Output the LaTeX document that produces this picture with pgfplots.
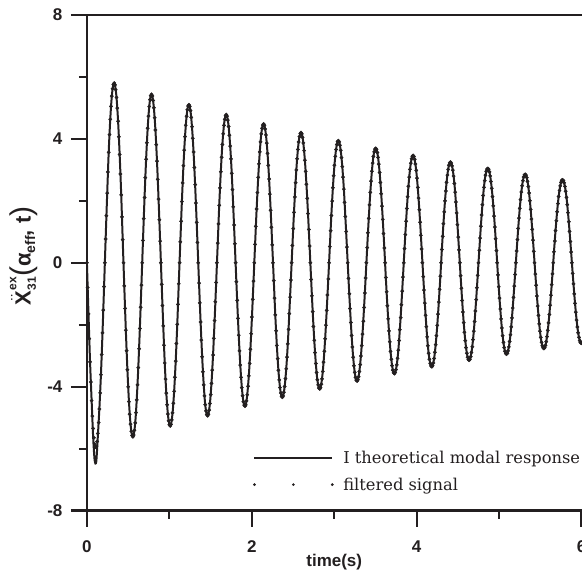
\documentclass[border=0pt]{standalone}
\usepackage{fontspec}
\setmainfont{DejaVu Serif}
\setsansfont{Liberation Sans}
\usepackage{pgfplots}
\pgfplotsset{compat=1.18}
\usepackage{pgfplotstable}
\definecolor{ink}{RGB}{35,31,32}

\pgfplotstableread{
t y
0.000 0.00
0.019 -1.65
0.038 -3.20
0.057 -4.45
0.076 -5.65
0.094 -6.38
0.113 -6.42
0.132 -5.62
0.151 -4.721
}\start

\pgfplotstableread{
t y
0.000 0.00
0.019 -1.65
0.038 -3.20
0.057 -4.45
0.076 -5.35
0.094 -5.85
0.113 -5.93
0.132 -5.51
0.151 -4.721
0.170 -3.613
0.189 -2.265
0.208 -0.770
0.227 0.768
0.246 2.247
0.264 3.565
0.283 4.633
0.302 5.381
0.321 5.758
0.340 5.743
0.359 5.337
0.378 4.571
0.397 3.498
0.416 2.193
0.434 0.746
0.453 -0.744
0.472 -2.176
0.491 -3.452
0.510 -4.486
0.529 -5.210
0.548 -5.576
0.567 -5.561
0.586 -5.168
0.604 -4.426
0.623 -3.387
0.642 -2.124
0.661 -0.722
0.680 0.720
0.699 2.107
0.718 3.342
0.737 4.344
0.756 5.045
0.774 5.399
0.793 5.385
0.812 5.005
0.831 4.286
0.850 3.280
0.869 2.056
0.888 0.699
0.907 -0.697
0.926 -2.040
0.944 -3.236
0.963 -4.207
0.982 -4.885
1.001 -5.228
1.020 -5.214
1.039 -4.846
1.058 -4.151
1.077 -3.176
1.096 -1.991
1.114 -0.677
1.133 0.675
1.152 1.975
1.171 3.134
1.190 4.073
1.209 4.731
1.228 5.063
1.247 5.049
1.265 4.693
1.284 4.019
1.303 3.076
1.322 1.928
1.341 0.656
1.360 -0.654
1.379 -1.913
1.398 -3.035
1.417 -3.944
1.435 -4.581
1.454 -4.902
1.473 -4.889
1.492 -4.544
1.511 -3.892
1.530 -2.978
1.549 -1.867
1.568 -0.635
1.587 0.633
1.605 1.852
1.624 2.939
1.643 3.819
1.662 4.436
1.681 4.747
1.700 4.734
1.719 4.400
1.738 3.768
1.757 2.884
1.775 1.808
1.794 0.615
1.813 -0.613
1.832 -1.794
1.851 -2.846
1.870 -3.698
1.889 -4.295
1.908 -4.597
1.927 -4.584
1.945 -4.261
1.964 -3.649
1.983 -2.793
2.002 -1.751
2.021 -0.595
2.040 0.594
2.059 1.737
2.078 2.755
2.097 3.581
2.115 4.159
2.134 4.451
2.153 4.439
2.172 4.126
2.191 3.534
2.210 2.704
2.229 1.695
2.248 0.577
2.267 -0.575
2.285 -1.682
2.304 -2.668
2.323 -3.468
2.342 -4.027
2.361 -4.310
2.380 -4.299
2.399 -3.995
2.418 -3.422
2.437 -2.619
2.455 -1.642
2.474 -0.558
2.493 0.557
2.512 1.628
2.531 2.584
2.550 3.358
2.569 3.900
2.588 4.174
2.607 4.162
2.625 3.869
2.644 3.313
2.663 2.536
2.682 1.590
2.701 0.541
2.720 -0.539
2.739 -1.577
2.758 -2.502
2.777 -3.252
2.795 -3.776
2.814 -4.041
2.833 -4.031
2.852 -3.746
2.871 -3.208
2.890 -2.455
2.909 -1.539
2.928 -0.524
2.947 0.522
2.965 1.527
2.984 2.423
3.003 3.149
3.022 3.657
3.041 3.913
3.060 3.903
3.079 3.627
3.098 3.107
3.117 2.378
3.135 1.491
3.154 0.507
3.173 -0.506
3.192 -1.479
3.211 -2.346
3.230 -3.049
3.249 -3.541
3.268 -3.789
3.287 -3.779
3.305 -3.513
3.324 -3.008
3.343 -2.302
3.362 -1.443
3.381 -0.491
3.400 0.490
3.419 1.432
3.438 2.272
3.457 2.952
3.475 3.429
3.494 3.669
3.513 3.660
3.532 3.401
3.551 2.913
3.570 2.229
3.589 1.398
3.608 0.475
3.626 -0.474
3.645 -1.386
3.664 -2.200
3.683 -2.859
3.702 -3.320
3.721 -3.553
3.740 -3.544
3.759 -3.294
3.778 -2.821
3.796 -2.159
3.815 -1.353
3.834 -0.460
3.853 0.459
3.872 1.342
3.891 2.130
3.910 2.768
3.929 3.215
3.948 3.441
3.966 3.431
3.985 3.189
4.004 2.731
4.023 2.090
4.042 1.310
4.061 0.446
4.080 -0.444
4.099 -1.300
4.118 -2.062
4.136 -2.681
4.155 -3.113
4.174 -3.332
4.193 -3.323
4.212 -3.088
4.231 -2.645
4.250 -2.024
4.269 -1.269
4.288 -0.432
4.306 0.430
4.325 1.259
4.344 1.997
4.363 2.596
4.382 3.015
4.401 3.226
4.420 3.218
4.439 2.990
4.458 2.561
4.476 1.960
4.495 1.229
4.514 0.418
4.533 -0.417
4.552 -1.219
4.571 -1.934
4.590 -2.514
4.609 -2.919
4.628 -3.124
4.646 -3.116
4.665 -2.896
4.684 -2.480
4.703 -1.898
4.722 -1.190
4.741 -0.405
4.760 0.404
4.779 1.180
4.798 1.873
4.816 2.434
4.835 2.827
4.854 3.025
4.873 3.017
4.892 2.804
4.911 2.402
4.930 1.838
4.949 1.152
4.968 0.392
4.986 -0.391
5.005 -1.143
5.024 -1.813
5.043 -2.357
5.062 -2.737
5.081 -2.929
5.100 -2.921
5.119 -2.715
5.138 -2.325
5.156 -1.780
5.175 -1.116
5.194 -0.379
5.213 0.378
5.232 1.107
5.251 1.756
5.270 2.282
5.289 2.651
5.308 2.837
5.326 2.829
5.345 2.629
5.364 2.252
5.383 1.723
5.402 1.080
5.421 0.367
5.440 -0.366
5.459 -1.072
5.478 -1.700
5.496 -2.210
5.515 -2.567
5.534 -2.747
5.553 -2.739
5.572 -2.546
5.591 -2.181
5.610 -1.669
5.629 -1.046
5.648 -0.356
5.666 0.355
5.685 1.038
5.704 1.646
5.723 2.140
5.742 2.485
5.761 2.660
5.780 2.653
5.799 2.465
5.818 2.111
5.836 1.616
5.855 1.013
5.874 0.345
5.893 -0.344
5.912 -1.005
5.931 -1.594
5.950 -2.072
5.969 -2.407
5.987 -2.575
6.000 -2.591
}\sig

\pgfplotstableread{
t y
0.009 -0.80
0.028 -2.45
0.047 -3.85
0.066 -4.95
0.085 -5.65
0.104 -5.95
0.123 -5.77
0.142 -5.160
0.161 -4.202
0.179 -2.963
0.198 -1.530
0.217 0.000
0.236 1.521
0.255 2.931
0.274 4.135
0.293 5.050
0.312 5.618
0.331 5.800
0.349 5.588
0.368 4.996
0.387 4.068
0.406 2.869
0.425 1.481
0.444 0.000
0.463 -1.473
0.482 -2.839
0.501 -4.004
0.519 -4.890
0.538 -5.440
0.557 -5.617
0.576 -5.410
0.595 -4.838
0.614 -3.940
0.633 -2.778
0.652 -1.434
0.671 0.000
0.689 1.427
0.708 2.749
0.727 3.877
0.746 4.735
0.765 5.267
0.784 5.439
0.803 5.239
0.822 4.685
0.841 3.815
0.859 2.690
0.878 1.389
0.897 0.000
0.916 -1.381
0.935 -2.662
0.954 -3.754
0.973 -4.585
0.992 -5.101
1.011 -5.266
1.029 -5.073
1.048 -4.536
1.067 -3.694
1.086 -2.605
1.105 -1.345
1.124 0.000
1.143 1.338
1.162 2.577
1.180 3.635
1.199 4.440
1.218 4.939
1.237 5.100
1.256 4.913
1.275 4.393
1.294 3.577
1.313 2.523
1.332 1.302
1.350 0.000
1.369 -1.295
1.388 -2.496
1.407 -3.520
1.426 -4.299
1.445 -4.783
1.464 -4.938
1.483 -4.757
1.502 -4.254
1.520 -3.464
1.539 -2.443
1.558 -1.261
1.577 0.000
1.596 1.254
1.615 2.417
1.634 3.408
1.653 4.163
1.672 4.631
1.690 4.782
1.709 4.606
1.728 4.119
1.747 3.354
1.766 2.365
1.785 1.221
1.804 0.000
1.823 -1.214
1.842 -2.340
1.860 -3.301
1.879 -4.031
1.898 -4.484
1.917 -4.630
1.936 -4.460
1.955 -3.988
1.974 -3.248
1.993 -2.290
2.012 -1.182
2.030 0.000
2.049 1.176
2.068 2.266
2.087 3.196
2.106 3.904
2.125 4.342
2.144 4.484
2.163 4.319
2.182 3.862
2.200 3.145
2.219 2.218
2.238 1.145
2.257 0.000
2.276 -1.139
2.295 -2.194
2.314 -3.095
2.333 -3.780
2.352 -4.205
2.370 -4.342
2.389 -4.182
2.408 -3.740
2.427 -3.045
2.446 -2.148
2.465 -1.109
2.484 0.000
2.503 1.103
2.522 2.125
2.540 2.997
2.559 3.660
2.578 4.072
2.597 4.204
2.616 4.050
2.635 3.621
2.654 2.949
2.673 2.080
2.692 1.074
2.710 0.000
2.729 -1.068
2.748 -2.057
2.767 -2.902
2.786 -3.544
2.805 -3.943
2.824 -4.071
2.843 -3.922
2.862 -3.507
2.880 -2.856
2.899 -2.014
2.918 -1.040
2.937 0.000
2.956 1.034
2.975 1.992
2.994 2.810
3.013 3.432
3.032 3.818
3.050 3.942
3.069 3.797
3.088 3.396
3.107 2.765
3.126 1.950
3.145 1.007
3.164 0.000
3.183 -1.001
3.202 -1.929
3.220 -2.721
3.239 -3.323
3.258 -3.697
3.277 -3.817
3.296 -3.677
3.315 -3.288
3.334 -2.677
3.353 -1.888
3.372 -0.975
3.390 0.000
3.409 0.970
3.428 1.868
3.447 2.635
3.466 3.218
3.485 3.580
3.504 3.696
3.523 3.561
3.541 3.184
3.560 2.593
3.579 1.828
3.598 0.944
3.617 0.000
3.636 -0.939
3.655 -1.809
3.674 -2.551
3.693 -3.116
3.711 -3.466
3.730 -3.579
3.749 -3.448
3.768 -3.083
3.787 -2.511
3.806 -1.771
3.825 -0.914
3.844 0.000
3.863 0.909
3.881 1.752
3.900 2.471
3.919 3.018
3.938 3.357
3.957 3.466
3.976 3.339
3.995 2.985
4.014 2.431
4.033 1.714
4.051 0.885
4.070 0.000
4.089 -0.880
4.108 -1.696
4.127 -2.392
4.146 -2.922
4.165 -3.250
4.184 -3.356
4.203 -3.233
4.221 -2.891
4.240 -2.354
4.259 -1.660
4.278 -0.857
4.297 0.000
4.316 0.852
4.335 1.642
4.354 2.317
4.373 2.830
4.391 3.147
4.410 3.250
4.429 3.131
4.448 2.799
4.467 2.280
4.486 1.608
4.505 0.830
4.524 0.000
4.543 -0.825
4.561 -1.590
4.580 -2.243
4.599 -2.740
4.618 -3.048
4.637 -3.147
4.656 -3.031
4.675 -2.711
4.694 -2.207
4.713 -1.557
4.731 -0.804
4.750 0.000
4.769 0.799
4.788 1.540
4.807 2.172
4.826 2.653
4.845 2.951
4.864 3.047
4.883 2.935
4.901 2.625
4.920 2.137
4.939 1.507
4.958 0.778
4.977 0.000
4.996 -0.774
5.015 -1.491
5.034 -2.103
5.053 -2.569
5.071 -2.858
5.090 -2.951
5.109 -2.843
5.128 -2.542
5.147 -2.070
5.166 -1.460
5.185 -0.753
5.204 0.000
5.223 0.749
5.241 1.444
5.260 2.037
5.279 2.488
5.298 2.767
5.317 2.857
5.336 2.752
5.355 2.461
5.374 2.004
5.393 1.413
5.411 0.730
5.430 0.000
5.449 -0.726
5.468 -1.398
5.487 -1.972
5.506 -2.409
5.525 -2.680
5.544 -2.767
5.563 -2.665
5.581 -2.383
5.600 -1.941
5.619 -1.369
5.638 -0.707
5.657 0.000
5.676 0.703
5.695 1.354
5.714 1.910
5.733 2.333
5.751 2.595
5.770 2.679
5.789 2.581
5.808 2.308
5.827 1.879
5.846 1.325
5.865 0.684
5.884 0.000
5.903 -0.680
5.921 -1.311
5.940 -1.849
5.959 -2.259
5.978 -2.513
5.997 -2.594
}\sigb

\newcommand{\ylab}{{\fontsize{22}{22}\selectfont\sffamily\bfseries
$\ddot{\mbox{X}}^{\mbox{\fontsize{12}{12}\selectfont\sffamily\bfseries ex}}_{\mbox{\fontsize{12}{12}\selectfont\sffamily\bfseries 31}}$%
\raisebox{-1pt}{\fontsize{30}{30}\selectfont\mdseries(}%
α\raisebox{-4.5pt}{\fontsize{14}{14}\selectfont eff}, t%
\raisebox{-1pt}{\fontsize{30}{30}\selectfont\mdseries)}}}

\begin{document}
\begin{tikzpicture}
\begin{axis}[
  scale only axis, width=495pt, height=496pt,
  xmin=0, xmax=6, ymin=-8, ymax=8,
  axis x line*=box, axis y line*=left,
  xtick={0,2,4,6}, minor xtick={1,3,5},
  ytick={-8,-4,0,4,8}, minor ytick={-6,-2,2,6},
  xtick pos=bottom, ytick pos=left,
  tick align=outside,
  major tick length=16pt, minor tick length=8pt,
  axis line style={line width=2.2pt, ink, line cap=rect},
  every tick/.style={line width=2.2pt, ink},
  /pgf/number format/assume math mode=true,
  ticklabel style={font=\fontsize{17}{17}\selectfont\sffamily\bfseries, text=ink},
  xticklabel shift=11pt, yticklabel shift=5pt,
  xlabel={time(s)},
  xlabel style={at={(rel axis cs:0.5,0)}, anchor=base, yshift=-55.5pt,
    font=\fontsize{17}{17}\selectfont\sffamily\bfseries, text=ink},
  ylabel={\ylab},
  ylabel style={at={(rel axis cs:0,0.514)}, anchor=center, yshift=63pt, text=ink},
  legend style={draw=none, fill=none, at={(rel axis cs:0.3354,0.125)}, anchor=north west,
    font=\fontsize{16.3}{16.3}\selectfont, text=ink, inner sep=0pt, row sep=9pt},
  legend cell align=left,
]
\addplot[ink, line width=2pt, smooth, forget plot] table[x=t,y=y] {\start};
\addplot[ink, line width=2pt, smooth, skip coords between index={0}{8},
  legend image code/.code={\draw[ink, line width=1.5pt] (0pt,0pt) -- (78pt,0pt); \path (86pt,0pt);}]
  table[x=t,y=y] {\sig};
\addlegendentry{I theoretical modal response}
\addplot[ink, only marks, mark=*, mark size=1.7pt, forget plot] table[x=t,y=y] {\sigb};
\addplot[ink, only marks, mark=*, mark size=1.7pt,
  legend image code/.code={\fill[ink] (0pt,0pt) circle (1.2pt) (39pt,0pt) circle (1.2pt) (78pt,0pt) circle (1.2pt); \path (86pt,0pt);}]
  table[x=t,y=y] {\sig};
\addlegendentry{filtered signal}
\end{axis}
\pgfresetboundingbox
\useasboundingbox (-87pt,-62pt) rectangle (495.5pt,511pt);
\end{tikzpicture}
\end{document}
